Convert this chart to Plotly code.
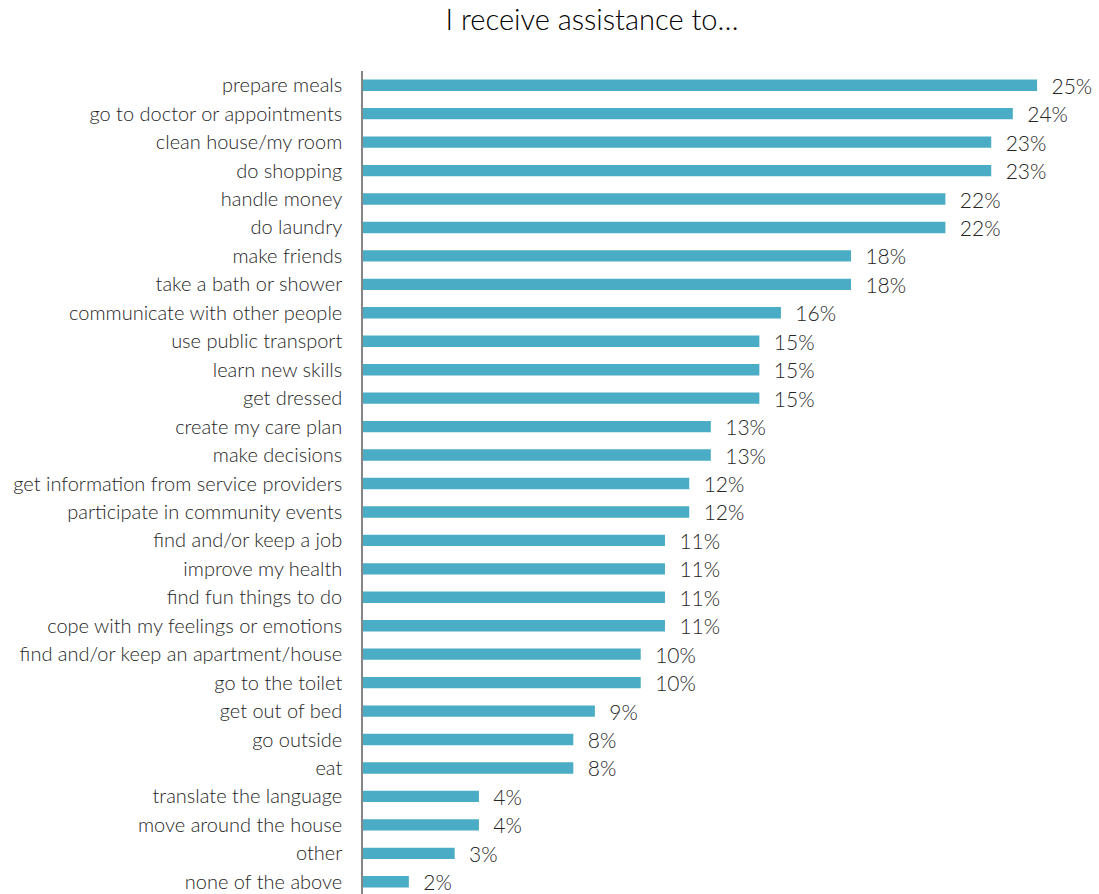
import plotly.graph_objects as go

# Survey answers, listed top to bottom
categories = [
    "prepare meals",
    "go to doctor or appointments",
    "clean house/my room",
    "do shopping",
    "handle money",
    "do laundry",
    "make friends",
    "take a bath or shower",
    "communicate with other people",
    "use public transport",
    "learn new skills",
    "get dressed",
    "create my care plan",
    "make decisions",
    "get information from service providers",
    "participate in community events",
    "find and/or keep a job",
    "improve my health",
    "find fun things to do",
    "cope with my feelings or emotions",
    "find and/or keep an apartment/house",
    "go to the toilet",
    "get out of bed",
    "go outside",
    "eat",
    "translate the language",
    "move around the house",
    "other",
    "none of the above",
]

# Share of respondents (%)
shares = [
    25.0, 24.1, 23.3, 23.3, 21.6, 21.6, 18.1, 18.1, 15.5, 14.7,
    14.7, 14.7, 12.9, 12.9, 12.1, 12.1, 11.2, 11.2, 11.2, 11.2,
    10.3, 10.3, 8.6, 7.8, 7.8, 4.3, 4.3, 3.4, 1.7,
]

FONT = "Lato"
BAR = "#4BACC6"
TEXT = "#262626"

fig = go.Figure(
    go.Bar(
        x=shares,
        y=categories,
        orientation="h",
        marker=dict(color=BAR, line=dict(width=0)),
        texttemplate="\u00a0\u00a0%{x:.0f}%",
        textposition="outside",
        constraintext="none",
        textfont=dict(family=FONT, size=21, color=TEXT, weight=300),
        cliponaxis=False,
        hoverinfo="skip",
    )
)

n = len(categories)
fig.update_layout(
    width=1099,
    height=894,
    margin=dict(l=363, r=8, t=71, b=0),
    paper_bgcolor="white",
    plot_bgcolor="white",
    bargap=0.6,
    showlegend=False,
    title=dict(
        text="I receive assistance to…",
        x=592 / 1099,
        xanchor="center",
        y=1 - 20 / 894,
        yanchor="middle",
        font=dict(family=FONT, size=29, color="#000000", weight=300),
    ),
    xaxis=dict(
        range=[0, 27],
        visible=False,
        showgrid=False,
        zeroline=False,
    ),
    yaxis=dict(
        categoryorder="array",
        categoryarray=categories,
        range=[n - 0.5 - 0.07, -0.5],
        showline=True,
        linecolor="#868686",
        linewidth=1.5,
        showgrid=False,
        zeroline=False,
        ticks="",
        ticklabelstandoff=15,
        tickfont=dict(family=FONT, size=20, color=TEXT, weight=300),
    ),
)

fig.write_html("out.html")
